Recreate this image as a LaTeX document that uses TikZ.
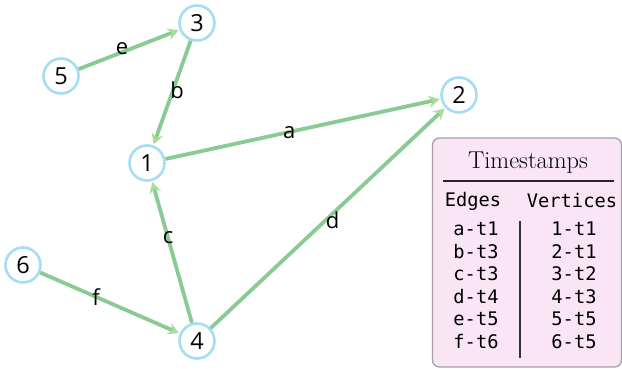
\documentclass[tikz,border=0pt]{standalone}
\usepackage{fontspec}
\setsansfont{Open Sans}
\setmonofont{DejaVu Sans Mono}
\usetikzlibrary{arrows.meta}
\definecolor{edgec}{HTML}{8ACB94}
\definecolor{tipc}{HTML}{A9DB9F}
\definecolor{nodec}{HTML}{A6DDF6}
\definecolor{boxfill}{HTML}{F9E5F6}
\definecolor{boxdraw}{HTML}{A8A0A6}
\tikzset{
  vtx/.style={circle, draw=nodec, line width=2.6pt, fill=white, minimum size=35pt, inner sep=0pt, font=\sffamily\fontsize{23.5}{23.5}\selectfont},
  edg/.style={draw=edgec, line width=3.8pt, -{Stealth[length=11pt,width=12pt,inset=4pt,color=tipc]}, shorten >=1pt},
  elab/.style={font=\sffamily\fontsize{22}{22}\selectfont, inner sep=1pt},
  tt/.style={font=\ttfamily\fontsize{18.7}{18.7}\selectfont, inner sep=0pt},
}
\begin{document}
\begin{tikzpicture}[x=1pt,y=-1pt]
\useasboundingbox (0,0) rectangle (622,369);
% vertices
\node[vtx] (n3) at (197,23) {3};
\node[vtx] (n5) at (61,76) {5};
\node[vtx] (n1) at (147,163) {1};
\node[vtx] (n2) at (459,95) {2};
\node[vtx] (n6) at (23,265) {6};
\node[vtx] (n4) at (197,341) {4};
% edges
\draw[edg] (n5) -- node[elab, pos=0.43, yshift=4pt] {e} (n3);
\draw[edg] (n3) -- node[elab, pos=0.5, xshift=5pt, yshift=3pt] {b} (n1);
\draw[edg] (n1) -- node[elab, pos=0.45, yshift=-1pt] {a} (n2);
\draw[edg] (n4) -- node[elab, pos=0.6] {c} (n1);
\draw[edg] (n4) -- node[elab, pos=0.52, yshift=-7pt] {d} (n2);
\draw[edg] (n6) -- node[elab, pos=0.4] {f} (n4);
% timestamp box
\node[draw=boxdraw, line width=1.3pt, fill=boxfill, rounded corners=7pt, minimum width=189pt, minimum height=229pt, inner sep=0pt] (box) at (527,252.5) {};
\node[font=\fontsize{24.4}{24.4}\selectfont, inner sep=0pt] (title) at (528,163) {Timestamps};
\coordinate (rl) at (443,181);
\coordinate (rr) at (614,181);
\draw[line width=1.6pt, black!85] (rl) -- (rr);
\node[tt] (he) at (473,201) {Edges};
\node[tt] (hv) at (572,201) {Vertices};
\coordinate (vt) at (520,221);
\coordinate (vb) at (520,358);
\draw[line width=1.2pt, black!80] (vt) -- (vb);
\foreach \e/\v/\y [count=\i] in {a-t1/1-t1/229, b-t3/2-t1/251.5, c-t3/3-t2/274, d-t4/4-t3/296.5, e-t5/5-t5/319, f-t6/6-t5/341.5}{
  \node[tt] (e\i) at (476,\y) {\e};
  \node[tt] (v\i) at (574,\y) {\v};
}
\end{tikzpicture}
\end{document}
